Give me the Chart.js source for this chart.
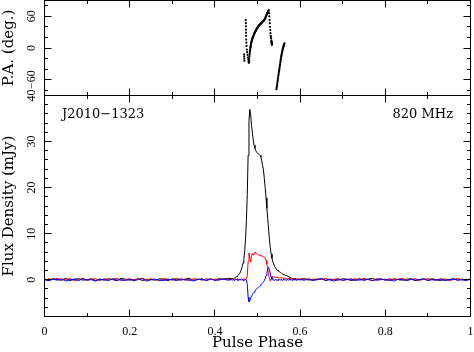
<!DOCTYPE html>
<html>
<head>
<meta charset="utf-8">
<script src="https://cdn.jsdelivr.net/npm/chart.js@4/dist/chart.umd.min.js"></script>
<style>
html,body{margin:0;padding:0;background:#fff;}
#wrap{position:relative;width:474px;height:352px;}
#wrap canvas{position:absolute;left:0;top:0;}
</style>
</head>
<body>
<div id="wrap">
<canvas id="fluxCanvas" width="474" height="352"></canvas>
<canvas id="paCanvas" width="474" height="96"></canvas>
</div>
<script>
// ---------- data ----------
const phase = [
0,0.01,0.02,0.03,0.04,0.05,0.06,0.07,0.08,0.09,
0.10,0.11,0.12,0.13,0.14,0.15,0.16,0.17,0.18,0.19,
0.20,0.21,0.22,0.23,0.24,0.25,0.26,0.27,0.28,0.29,
0.30,0.31,0.32,0.33,0.34,0.35,0.36,0.37,0.38,0.39,
0.40,0.41,0.42,0.43,0.44,
0.442,0.444,0.446,0.448,0.450,0.452,0.454,0.456,0.458,0.460,
0.462,0.464,0.466,0.468,0.470,0.472,0.474,0.476,0.478,0.480,
0.482,0.484,0.486,0.488,0.490,0.492,0.494,0.496,0.498,0.500,
0.502,0.504,0.506,0.508,0.510,0.512,0.514,0.516,0.518,0.520,
0.522,0.524,0.526,0.528,0.530,0.532,0.534,0.536,0.538,0.540,
0.542,0.544,0.546,0.548,0.550,0.552,0.554,0.556,0.558,0.560,
0.562,0.564,0.566,0.568,0.570,0.572,0.574,0.576,0.578,0.580,
0.582,0.584,0.586,0.588,0.590,0.592,0.594,0.596,0.598,0.600,
0.61,0.62,0.63,0.64,0.65,0.66,0.67,0.68,0.69,0.70,
0.71,0.72,0.73,0.74,0.75,0.76,0.77,0.78,0.79,0.80,
0.81,0.82,0.83,0.84,0.85,0.86,0.87,0.88,0.89,0.90,
0.91,0.92,0.93,0.94,0.95,0.96,0.97,0.98,0.99,1.00
];
// Total intensity (mJy)
const totalI = [
0.1,-0.2,0.2,0.0,-0.1,0.3,-0.2,0.1,0.2,-0.1,
0.0,0.2,-0.2,0.1,-0.1,0.2,0.0,-0.2,0.3,0.1,
-0.1,0.0,0.2,-0.2,0.1,0.0,-0.1,0.2,0.1,-0.2,
0.2,0.0,-0.1,0.1,0.3,-0.1,0.0,0.2,-0.2,0.1,
0.0,0.2,0.1,0.3,0.2,
0.3,0.2,0.4,0.5,0.6,0.7,0.9,1.1,1.3,1.7,
2.2,2.8,3.6,4.6,6.3,9.0,13.0,18.5,27.0,34.5,
37.0,35.8,33.5,31.8,30.3,29.2,28.5,28.0,27.7,27.5,
27.3,27.2,27.0,26.6,25.8,24.8,23.8,22.0,20.0,17.8,
15.5,13.3,11.0,8.8,7.0,5.6,4.6,3.9,3.4,2.9,
2.6,2.3,2.1,1.9,1.8,1.7,1.6,1.4,1.3,1.2,
1.1,1.0,0.9,0.9,0.8,0.7,0.6,0.5,0.4,0.3,
0.3,0.2,0.3,0.1,0.2,0.1,0.2,0.0,0.1,0.1,
0.2,-0.1,0.1,0.0,0.2,-0.2,0.1,0.0,-0.1,0.2,
0.1,-0.2,0.0,0.2,-0.1,0.1,0.3,-0.1,0.0,0.1,
-0.2,0.2,0.0,-0.1,0.1,0.2,-0.2,0.0,0.1,-0.1,
0.2,0.0,-0.2,0.1,0.0,0.2,-0.1,0.1,0.0,0.1
];
// Linear polarization (mJy)
const linearPol = [
-0.2,0.2,0.0,0.3,-0.1,0.1,0.2,-0.2,0.0,0.3,
-0.1,0.1,0.2,-0.2,0.2,0.0,0.1,0.3,-0.2,0.0,
0.2,-0.1,0.1,0.3,-0.1,0.2,0.0,-0.2,0.2,0.1,
-0.1,0.3,0.0,0.1,-0.2,0.2,0.1,-0.1,0.2,0.0,
0.1,-0.1,0.2,0.0,0.1,
0.2,-0.1,0.1,0.2,0.0,0.1,0.2,-0.1,0.1,0.0,
0.2,0.1,0.0,0.2,0.1,0.0,0.2,0.8,4.0,5.8,
4.6,3.8,5.2,5.7,5.3,5.6,6.0,5.9,5.6,5.5,
5.4,5.3,5.4,5.2,5.1,5.0,5.0,4.9,4.7,4.2,
3.4,2.4,1.3,0.3,-0.3,0.2,0.7,0.6,0.5,0.6,
0.4,0.5,0.6,0.4,0.5,0.3,0.4,0.3,0.5,0.3,
0.2,0.4,0.2,0.3,0.1,0.2,0.3,0.0,0.2,0.1,
0.2,-0.1,0.1,0.2,0.0,0.1,-0.1,0.2,0.0,0.1,
0.1,0.2,-0.1,0.2,0.0,0.3,-0.1,0.1,0.2,-0.2,
0.1,0.0,0.2,-0.1,0.3,0.0,-0.2,0.2,0.1,-0.1,
0.2,0.0,0.1,0.3,-0.1,0.0,0.2,-0.2,0.1,0.2,
0.0,-0.1,0.2,0.1,-0.2,0.0,0.3,-0.1,0.1,0.0
];
// Circular polarization (mJy)
const circularPol = [
0.0,-0.2,0.1,-0.1,0.2,-0.3,0.0,0.1,-0.2,0.2,
-0.1,0.0,-0.3,0.1,0.0,-0.2,0.2,-0.1,0.0,-0.2,
0.1,-0.2,0.0,0.2,-0.3,0.0,0.1,-0.1,-0.2,0.1,
0.0,-0.2,0.2,-0.1,0.0,-0.3,0.1,0.0,-0.1,0.2,
-0.2,0.0,0.1,-0.1,0.0,
-0.1,0.1,-0.2,0.0,0.1,-0.1,0.0,-0.2,0.1,0.0,
-0.1,0.1,-0.2,0.0,-0.1,0.1,0.0,-1.0,-3.8,-4.8,
-4.5,-4.0,-3.6,-3.2,-2.9,-2.7,-2.5,-2.2,-2.0,-1.8,
-1.7,-1.5,-1.3,-1.1,-0.9,-0.7,-0.5,-0.2,0.2,0.9,
1.5,2.3,2.7,2.2,1.4,0.6,0.1,-0.1,0.0,-0.2,
0.1,-0.1,0.0,-0.2,0.1,0.0,-0.1,0.1,-0.2,0.0,
0.1,-0.1,0.0,-0.2,0.1,-0.1,0.0,0.2,-0.1,0.0,
-0.2,0.1,0.0,-0.1,0.1,-0.2,0.0,0.1,-0.1,0.0,
-0.1,0.1,-0.2,0.0,0.2,-0.1,0.0,-0.3,0.1,-0.1,
0.0,0.2,-0.2,0.0,-0.1,0.1,-0.2,0.0,0.2,-0.1,
0.0,-0.3,0.1,0.0,-0.2,0.1,-0.1,0.0,0.2,-0.2,
0.0,-0.1,0.1,-0.2,0.0,0.1,-0.1,0.0,-0.2,0.1
];
// Position angle (deg.)
const paPhase = [
0.4685,0.4688,0.4690,0.4692,
0.4726,0.4727,0.4728,0.4729,0.4731,0.4732,0.4734,0.4738,0.4743,0.4750,0.4758,0.4766,0.4774,0.4782,0.4790,0.4796,
0.4800,0.4803,0.4806,0.4810,0.4814,0.4818,0.4821,0.4825,0.4829,0.4832,0.4835,0.4838,0.4842,0.4845,0.4848,0.4850,0.4855,0.4860,0.4865,0.4870,
0.4875,0.4880,0.4885,0.4890,0.4895,0.4900,0.4908,0.4915,0.4922,0.4930,0.4935,0.4940,0.4947,0.4953,0.4960,0.4965,0.4972,0.4980,0.4985,0.4990,
0.4998,0.5005,0.5012,0.5020,0.5028,0.5035,0.5042,0.5050,0.5060,0.5070,0.5078,0.5085,0.5092,0.5100,0.5108,0.5115,0.5122,0.5130,0.5140,0.5150,
0.5158,0.5165,0.5172,0.5180,0.5188,0.5195,0.5202,0.5210,0.5218,0.5225,0.5232,0.5240,0.5248,0.5255,0.5260,0.5266,
0.5272,0.5277,0.5282,0.5289,0.5295,0.5300,0.5305,0.5310,0.5315,0.5320,0.5325,0.5330,0.5335,0.5340,0.5328,0.5338,0.5332,
0.5446,0.5450,0.5455,0.5460,0.5465,0.5470,0.5475,0.5480,0.5485,0.5490,0.5495,0.5500,0.5505,0.5510,0.5515,0.5520,0.5525,0.5530,0.5535,0.5540,
0.5545,0.5550,0.5555,0.5560,0.5565,0.5570,0.5575,0.5580,0.5585,0.5590,0.5595,0.5600,0.5605,0.5610,0.5615,0.5620,0.5627,0.5634
];
const paAngle = [
-12,-16,-20,-24,
53,47,41,35,29,23,16,10,4,-3,-8,-13,-18,-22,-26,-28,
-27,-24,-20,-16,-13,-10,-7,-5,-2,0,1.5,3,4.5,6,7.5,9,10.5,12,13.5,15,
16.5,18,19,20,21,22,23.5,25,26.5,28,29,30,31,32,33,34,35,36,37,37.5,
38.3,39,40,41,41.8,42.5,43.3,44,44.8,45.6,46.3,47,47.5,48,48.8,49.5,50,50.5,51.3,52,
53,54,55,56,57.5,59,60.7,62.5,63.8,65,66,67,68.5,70,71,72,
66,60,53,47,40,34,28,23,20,18,14,11,8,6,12,9,10,
-78,-75,-73,-70,-67,-64,-61,-58,-55,-52,-50,-47,-44,-42,-39,-36,-33,-31,-28,-25,
-22,-20,-17,-15,-13,-11,-9,-7,-5,-3,-1,0,1.5,3,4.5,6,7.5,9
];
// tick values
const phaseTicks = [0,0.2,0.4,0.6,0.8,1];
const phaseMinorTicks = [0.1,0.3,0.5,0.7,0.9];
const fluxTicks = [0,10,20,30,40];
const fluxMinorTicks = [-6,-4,-2,2,4,6,8,12,14,16,18,22,24,26,28,32,34,36,38];
const paTicks = [-60,0,60];
const paMinorTicks = [-80,-40,-20,20,40,80];

// ---------- helpers ----------
const tickFont = {family:'Liberation Serif', size:12};
const titleFont = {family:'DejaVu Serif', size:15};
const fmt = v => String(v).replace('-', '\u2212');
const noPad = s => { s.paddingLeft = 0; s.paddingRight = 0; s.paddingTop = 0; s.paddingBottom = 0; };

const framePlugin = {
  id: 'frameTicks',
  afterDraw(chart, args, o) {
    const {ctx, chartArea: a} = chart;
    const xs = chart.scales.x, ys = chart.scales.y;
    ctx.save();
    ctx.strokeStyle = '#000';
    ctx.lineWidth = 1;
    ctx.beginPath();
    const vx = (list, len) => list.forEach(v => {
      const p = Math.round(xs.getPixelForValue(v) - 0.5) + 0.5;
      ctx.moveTo(p, a.bottom); ctx.lineTo(p, a.bottom - len);
      ctx.moveTo(p, a.top); ctx.lineTo(p, a.top + len);
    });
    const vy = (list, len) => list.forEach(v => {
      const p = Math.round(ys.getPixelForValue(v) - 0.5) + 0.5;
      ctx.moveTo(a.left, p); ctx.lineTo(a.left + len, p);
      ctx.moveTo(a.right, p); ctx.lineTo(a.right - len, p);
    });
    vx(o.xMajor, 7); vx(o.xMinor, 3.5);
    vy(o.yMajor, 7); vy(o.yMinor, 3.5);
    ctx.stroke();
    ctx.strokeRect(a.left, a.top, a.right - a.left, a.bottom - a.top);
    if (o.leftText) {
      ctx.fillStyle = '#000';
      ctx.font = '13px "DejaVu Serif"';
      ctx.textBaseline = 'middle';
      ctx.textAlign = 'left';
      ctx.fillText(o.leftText, a.left + 17.5, a.top + 19.5);
      ctx.textAlign = 'right';
      ctx.fillText(o.rightText, a.right - 17.5, a.top + 19.5);
    }
    ctx.restore();
  }
};

// ---------- flux density panel ----------
const mk = (ys) => phase.map((x, i) => ({x, y: ys[i]}));
new Chart(document.getElementById('fluxCanvas'), {
  type: 'line',
  data: {
    datasets: [
      {label: 'I', data: mk(totalI), borderColor: '#000000', order: 3},
      {label: 'L', data: mk(linearPol), borderColor: '#ff0000', order: 2},
      {label: 'V', data: mk(circularPol), borderColor: '#0000ff', order: 1}
    ]
  },
  options: {
    responsive: false,
    animation: false,
    layout: {autoPadding: false, padding: {left: 0, right: 3.5, top: 95.5, bottom: 0}},
    elements: {point: {radius: 0}, line: {borderWidth: 1, tension: 0}},
    plugins: {
      legend: {display: false},
      tooltip: {enabled: false},
      frameTicks: {xMajor: phaseTicks, xMinor: phaseMinorTicks, yMajor: fluxTicks, yMinor: fluxMinorTicks,
                   leftText: 'J2010\u22121323', rightText: '820 MHz'}
    },
    scales: {
      x: {
        type: 'linear', min: 0, max: 1,
        afterBuildTicks: s => { s.ticks = phaseTicks.map(v => ({value: v})); },
        afterFit: s => { s.height = 35.5; noPad(s); },
        grid: {display: false, drawTicks: false},
        border: {display: false},
        ticks: {font: tickFont, color: '#000', padding: 8, maxRotation: 0, autoSkip: false, callback: v => fmt(v)},
        title: {display: true, text: 'Pulse Phase', font: titleFont, color: '#000', padding: {top: 0, bottom: 0}}
      },
      y: {
        type: 'linear', min: -8, max: 40,
        afterBuildTicks: s => { s.ticks = fluxTicks.map(v => ({value: v})); },
        afterFit: s => { s.width = 44.5; noPad(s); },
        grid: {display: false, drawTicks: false},
        border: {display: false},
        ticks: {font: tickFont, color: '#000', padding: 7, minRotation: 90, maxRotation: 90, crossAlign: 'center', autoSkip: false, callback: v => fmt(v)},
        title: {display: true, text: 'Flux Density (mJy)', font: titleFont, color: '#000', padding: {top: 0, bottom: 0}}
      }
    }
  },
  plugins: [framePlugin]
});

// ---------- position angle panel ----------
new Chart(document.getElementById('paCanvas'), {
  type: 'scatter',
  data: {
    datasets: [
      {label: 'P.A.', data: paPhase.map((x, i) => ({x, y: paAngle[i]})),
       pointRadius: 1.1, pointBackgroundColor: '#000', pointBorderWidth: 0, showLine: false}
    ]
  },
  options: {
    responsive: false,
    animation: false,
    layout: {autoPadding: false, padding: {left: 0, right: 3.5, top: 0.5, bottom: 0.5}},
    plugins: {
      legend: {display: false},
      tooltip: {enabled: false},
      frameTicks: {xMajor: phaseTicks, xMinor: phaseMinorTicks, yMajor: paTicks, yMinor: paMinorTicks}
    },
    scales: {
      x: {type: 'linear', min: 0, max: 1, display: false, afterFit: noPad},
      y: {
        type: 'linear', min: -90, max: 90,
        afterBuildTicks: s => { s.ticks = paTicks.map(v => ({value: v})); },
        afterFit: s => { s.width = 44.5; noPad(s); },
        grid: {display: false, drawTicks: false},
        border: {display: false},
        ticks: {font: tickFont, color: '#000', padding: 3.6, minRotation: 90, maxRotation: 90, crossAlign: 'center', autoSkip: false, callback: v => fmt(v)},
        title: {display: true, text: 'P.A. (deg.)', font: titleFont, color: '#000', padding: {top: 0, bottom: 0}}
      }
    }
  },
  plugins: [framePlugin]
});
</script>
</body>
</html>
